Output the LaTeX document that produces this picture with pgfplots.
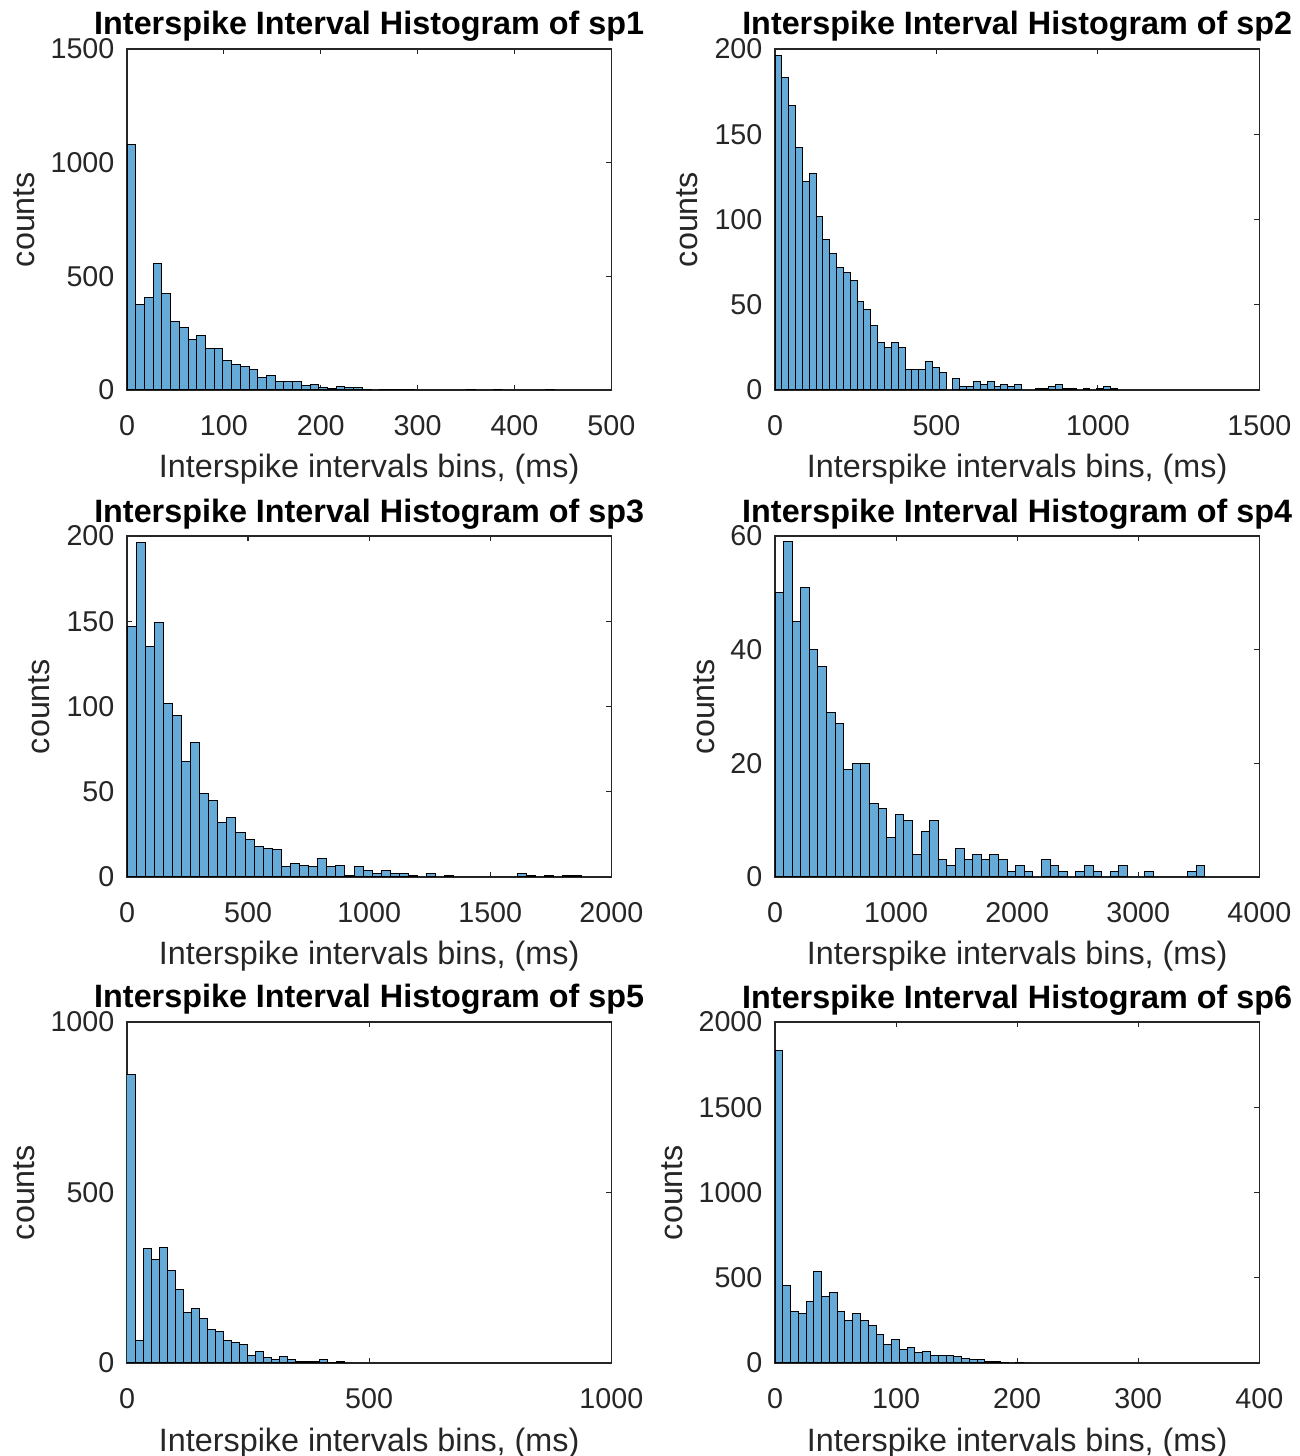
\documentclass[border=0pt]{standalone}
\usepackage{fontspec}
\setmainfont{Liberation Sans}
\usepackage{pgfplots}
\pgfplotsset{compat=1.18}
\definecolor{barfill}{RGB}{102,170,215}
\definecolor{axgray}{RGB}{38,38,38}

\pgfplotsset{
  isi/.style={
    scale only axis, width=145.3pt, height=102.3pt, anchor=south west,
    xmin=0, ymin=0,
    axis line style={axgray, line width=0.35pt},
    tick align=inside, major tick length=1.6pt,
    tick style={axgray, line width=0.35pt},
    every tick label/.append style={font=\fontsize{8.6}{10}\selectfont, text=axgray},
    /pgf/number format/assume math mode=true,
    /pgf/number format/1000 sep={},
    scaled ticks=false,
    xticklabel style={anchor=base, yshift=-13.6pt, inner sep=0pt},
    yticklabel style={anchor=east, inner sep=0pt, xshift=-3.6pt},
    title style={font=\fontsize{9.7}{11}\selectfont\bfseries, at={(axis description cs:0.5,1)},
      anchor=base, yshift=-1.8pt, inner sep=0pt},
    xlabel style={font=\fontsize{9.7}{11}\selectfont, text=axgray,
      at={(axis description cs:0.5,0)}, anchor=base, yshift=-26.4pt, inner sep=0pt},
    ylabel style={font=\fontsize{9.7}{11}\selectfont, text=axgray, anchor=base, inner sep=0pt},
    xlabel={Interspike intervals bins, (ms)},
    ylabel={counts},
  },
  hist/.style={ybar interval, fill=barfill, draw=black, line width=0.3pt},
}

\begin{document}
\begin{tikzpicture}
\useasboundingbox (0,0) rectangle (390pt,436.8pt);

% sp1
\begin{axis}[isi, at={(38.1pt,319.8pt)},
  title={Interspike Interval Histogram of sp1},
  xmax=500, ymax=1500, xtick={0,100,...,500}, ytick={0,500,1000,1500},
  ylabel style={at={(axis description cs:-0.19,0.5)}}]
\addplot[hist] coordinates {
(0,1080)(9,378)(18,407)(27,556)(36,426)(45,301)(54,275)(63,220)(72,238)(81,181)
(90,181)(99,128)(108,113)(117,103)(126,90)(135,57)(144,65)(153,37)(162,37)(171,37)
(180,19)(189,26)(198,13)(207,7)(216,15)(225,9)(234,9)(243,3)(252,0)(261,3)
(270,1)(279,1)(288,1)(297,0)(306,0)(315,0)(324,0)(333,0)(342,0)(351,2)
(360,0)(369,0)(378,2)(387,0)(396,0)(405,0)(414,0)(423,0)(432,2)(441,0)
};
\end{axis}

% sp2
\begin{axis}[isi, at={(232.5pt,319.8pt)},
  title={Interspike Interval Histogram of sp2},
  xmax=1500, ymax=200, xtick={0,500,1000,1500}, ytick={0,50,...,200},
  ylabel style={at={(axis description cs:-0.159,0.5)}}]
\addplot[hist] coordinates {
(0,196)(21.2,183)(42.4,167)(63.6,142)(84.8,122)(106,127)(127.2,102)(148.4,88)(169.6,80)(190.8,72)
(212,69)(233.2,64)(254.4,52)(275.6,47)(296.8,38)(318,28)(339.2,25)(360.4,28)(381.6,25)(402.8,12)
(424,12)(445.2,12)(466.4,17)(487.6,13)(508.8,10)(530,0)(551.2,7)(572.4,2)(593.6,2)(614.8,5)
(636,3)(657.2,5)(678.4,2)(699.6,3)(720.8,2)(742,3)(763.2,0)(784.4,0)(805.6,1)(826.8,1)
(848,2)(869.2,3)(890.4,1)(911.6,1)(932.8,0)(954,1)(975.2,0)(996.4,1)(1017.6,2)(1038.8,1)
(1060,0)
};
\end{axis}

% sp3
\begin{axis}[isi, at={(38.1pt,173.7pt)},
  title={Interspike Interval Histogram of sp3},
  xmax=2000, ymax=200, xtick={0,500,...,2000}, ytick={0,50,...,200},
  ylabel style={at={(axis description cs:-0.159,0.5)}}]
\addplot[hist] coordinates {
(0,147)(37.5,196)(75,135)(112.5,149)(150,102)(187.5,95)(225,68)(262.5,79)(300,49)(337.5,45)
(375,32)(412.5,35)(450,26)(487.5,22)(525,18)(562.5,17)(600,16)(637.5,6)(675,8)(712.5,7)
(750,6)(787.5,11)(825,6)(862.5,7)(900,1)(937.5,6)(975,4)(1012.5,2)(1050,4)(1087.5,2)
(1125,2)(1162.5,1)(1200,0)(1237.5,2)(1275,0)(1312.5,1)(1350,0)(1387.5,0)(1425,0)(1462.5,0)
(1500,0)(1537.5,0)(1575,0)(1612.5,2)(1650,1)(1687.5,0)(1725,1)(1762.5,0)(1800,1)(1837.5,1)
(1875,0)
};
\end{axis}

% sp4
\begin{axis}[isi, at={(232.5pt,173.7pt)},
  title={Interspike Interval Histogram of sp4},
  xmax=4000, ymax=60, xtick={0,1000,...,4000}, ytick={0,20,40,60},
  ylabel style={at={(axis description cs:-0.124,0.5)}}]
\addplot[hist] coordinates {
(0,50)(71,59)(142,45)(213,51)(284,40)(355,37)(426,29)(497,27)(568,19)(639,20)
(710,20)(781,13)(852,12)(923,7)(994,11)(1065,10)(1136,4)(1207,8)(1278,10)(1349,3)
(1420,2)(1491,5)(1562,3)(1633,4)(1704,3)(1775,4)(1846,3)(1917,1)(1988,2)(2059,1)
(2130,0)(2201,3)(2272,2)(2343,1)(2414,0)(2485,1)(2556,2)(2627,1)(2698,0)(2769,1)
(2840,2)(2911,0)(2982,0)(3053,1)(3124,0)(3195,0)(3266,0)(3337,0)(3408,1)(3479,2)
(3550,0)
};
\end{axis}

% sp5
\begin{axis}[isi, at={(38.1pt,27.9pt)},
  title={Interspike Interval Histogram of sp5},
  xmax=1000, ymax=1000, xtick={0,500,1000}, ytick={0,500,1000},
  ylabel style={at={(axis description cs:-0.19,0.5)}}]
\addplot[hist] coordinates {
(0,845)(16.6,67)(33.2,336)(49.8,304)(66.4,340)(83,271)(99.6,217)(116.2,147)(132.8,159)(149.4,131)
(166,98)(182.6,92)(199.2,67)(215.8,60)(232.4,55)(249,22)(265.6,34)(282.2,15)(298.8,10)(315.4,19)
(332,10)(348.6,4)(365.2,4)(381.8,4)(398.4,9)(415,1)(431.6,4)(448.2,0)(464.8,0)
};
\end{axis}

% sp6
\begin{axis}[isi, at={(232.5pt,27.9pt)},
  title={Interspike Interval Histogram of sp6},
  xmax=400, ymax=2000, xtick={0,100,...,400}, ytick={0,500,...,2000},
  ylabel style={at={(axis description cs:-0.19,0.5)}}]
\addplot[hist] coordinates {
(0,1832)(6.42,457)(12.84,301)(19.26,291)(25.68,358)(32.1,534)(38.52,391)(44.94,416)(51.36,301)(57.78,250)
(64.2,291)(70.62,250)(77.04,219)(83.46,170)(89.88,111)(96.3,137)(102.72,78)(109.14,88)(115.56,60)(121.98,70)
(128.4,45)(134.82,45)(141.24,45)(147.66,37)(154.08,27)(160.5,18)(166.92,18)(173.34,10)(179.76,10)(186.18,2)
(192.6,0)(199.02,4)(205.44,0)(211.86,0)
};
\end{axis}
\end{tikzpicture}
\end{document}
